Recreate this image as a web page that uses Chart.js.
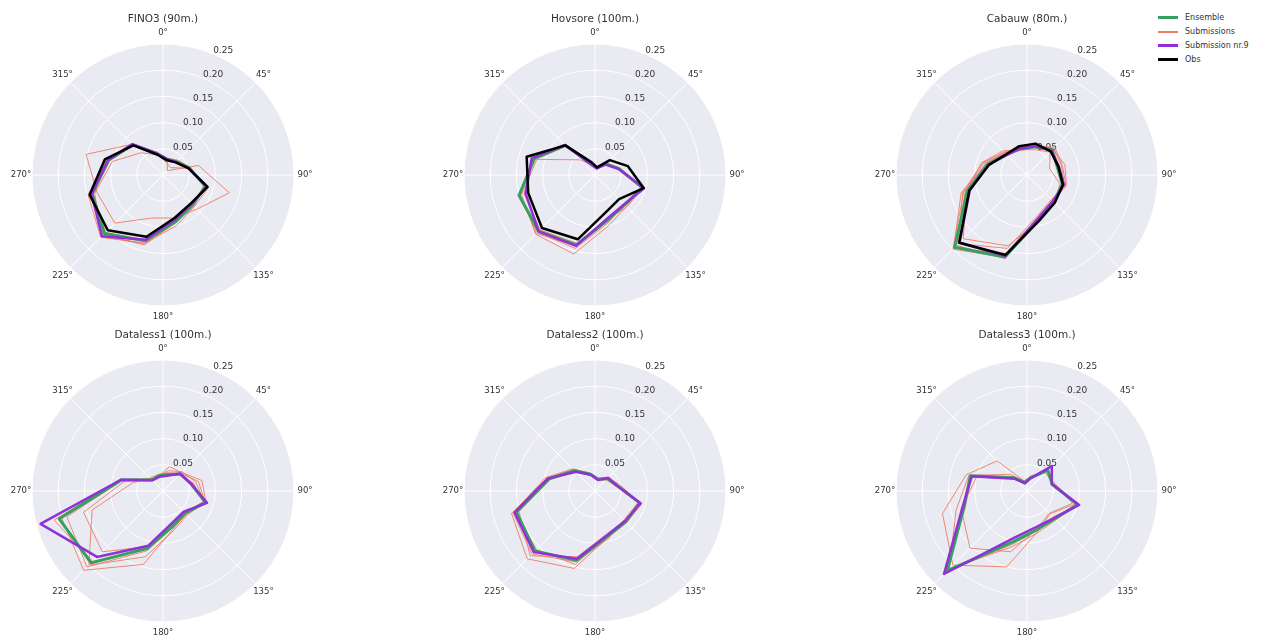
<!DOCTYPE html>
<html>
<head>
<meta charset="utf-8">
<script src="https://cdn.jsdelivr.net/npm/chart.js@4.4.1/dist/chart.umd.min.js"></script>
<style>
  body { margin: 0; background: #fff; width: 1273px; height: 644px; overflow: hidden; position: relative; font-family: "DejaVu Sans", sans-serif; }
  canvas { position: absolute; }
  #legend { position: absolute; left: 1158px; top: 11px; font-size: 8px; color: #333; }
  #legend .row { height: 13.8px; display: flex; align-items: center; }
  #legend .sw { width: 20px; margin-right: 7px; }
</style>
</head>
<body>
<div id="legend">
  <div class="row"><div class="sw" style="border-top:3px solid #35a05f"></div>Ensemble</div>
  <div class="row"><div class="sw" style="border-top:2px solid #ea8068"></div>Submissions</div>
  <div class="row"><div class="sw" style="border-top:3px solid #9030d6"></div>Submission nr.9</div>
  <div class="row"><div class="sw" style="border-top:3px solid #000"></div>Obs</div>
</div>
<script>
// sector centres (degrees, clockwise from north)
const directions = [15, 45, 75, 105, 135, 165, 195, 225, 255, 285, 315, 345];
const angleTickLabels = ['0°', '45°', '90°', '135°', '180°', '225°', '270°', '315°'];
const radialTicks = [0.05, 0.10, 0.15, 0.20, 0.25];
const panelTitles = ['FINO3 (90m.)', 'Hovsore (100m.)', 'Cabauw (80m.)',
                     'Dataless1 (100m.)', 'Dataless2 (100m.)', 'Dataless3 (100m.)'];

// FINO3
const fino3Ensemble = [0.031, 0.036, 0.052, 0.084, 0.080, 0.092, 0.130, 0.158, 0.140, 0.108, 0.082, 0.042];
const fino3Sub9     = [0.031, 0.035, 0.050, 0.086, 0.078, 0.088, 0.128, 0.165, 0.141, 0.109, 0.083, 0.042];
const fino3Obs      = [0.029, 0.034, 0.050, 0.088, 0.076, 0.085, 0.122, 0.149, 0.145, 0.115, 0.080, 0.040];
const fino3Subs = [
  [0.030, 0.012, 0.070, 0.131, 0.092, 0.085, 0.085, 0.130, 0.130, 0.152, 0.083, 0.045],
  [0.025, 0.020, 0.050, 0.090, 0.085, 0.100, 0.135, 0.165, 0.135, 0.100, 0.060, 0.040],
  [0.033, 0.040, 0.055, 0.080, 0.084, 0.095, 0.135, 0.168, 0.148, 0.112, 0.085, 0.045],
  [0.030, 0.037, 0.053, 0.082, 0.082, 0.090, 0.130, 0.155, 0.138, 0.105, 0.080, 0.043],
  [0.032, 0.034, 0.050, 0.087, 0.079, 0.094, 0.138, 0.162, 0.143, 0.110, 0.084, 0.040]
];

// Hovsore
const hovsoreEnsemble = [0.014, 0.030, 0.047, 0.094, 0.080, 0.090, 0.138, 0.152, 0.150, 0.120, 0.080, 0.020];
const hovsoreSub9     = [0.013, 0.028, 0.046, 0.097, 0.079, 0.087, 0.140, 0.152, 0.137, 0.125, 0.081, 0.019];
const hovsoreObs      = [0.015, 0.040, 0.065, 0.096, 0.065, 0.075, 0.127, 0.143, 0.132, 0.135, 0.080, 0.025];
const hovsoreSubs = [
  [0.015, 0.030, 0.050, 0.090, 0.085, 0.100, 0.156, 0.160, 0.145, 0.115, 0.041, 0.020],
  [0.016, 0.032, 0.048, 0.092, 0.082, 0.092, 0.140, 0.158, 0.148, 0.118, 0.078, 0.022],
  [0.013, 0.029, 0.045, 0.095, 0.086, 0.088, 0.135, 0.148, 0.140, 0.122, 0.083, 0.020],
  [0.014, 0.031, 0.050, 0.093, 0.079, 0.095, 0.145, 0.155, 0.152, 0.119, 0.079, 0.021]
];

// Cabauw
const cabauwEnsemble = [0.056, 0.068, 0.060, 0.070, 0.072, 0.088, 0.162, 0.195, 0.118, 0.078, 0.055, 0.052];
const cabauwSub9     = [0.057, 0.066, 0.063, 0.073, 0.070, 0.085, 0.160, 0.182, 0.113, 0.076, 0.054, 0.052];
const cabauwObs      = [0.062, 0.064, 0.062, 0.071, 0.075, 0.090, 0.158, 0.183, 0.114, 0.075, 0.056, 0.057];
const cabauwSubs = [
  [0.055, 0.070, 0.075, 0.078, 0.070, 0.085, 0.163, 0.200, 0.125, 0.085, 0.060, 0.050],
  [0.050, 0.062, 0.045, 0.065, 0.075, 0.090, 0.140, 0.172, 0.120, 0.090, 0.065, 0.050],
  [0.058, 0.072, 0.068, 0.074, 0.068, 0.082, 0.155, 0.198, 0.130, 0.080, 0.058, 0.055],
  [0.054, 0.066, 0.058, 0.069, 0.073, 0.087, 0.165, 0.190, 0.122, 0.082, 0.060, 0.048],
  [0.057, 0.075, 0.070, 0.077, 0.066, 0.080, 0.145, 0.185, 0.127, 0.088, 0.062, 0.053]
];

// Dataless1
const dataless1Ensemble = [0.032, 0.046, 0.055, 0.084, 0.060, 0.070, 0.113, 0.194, 0.205, 0.082, 0.030, 0.030];
const dataless1Sub9     = [0.030, 0.047, 0.055, 0.087, 0.056, 0.064, 0.108, 0.178, 0.242, 0.083, 0.029, 0.028];
const dataless1Subs = [
  [0.048, 0.050, 0.077, 0.085, 0.062, 0.075, 0.145, 0.214, 0.200, 0.085, 0.032, 0.030],
  [0.035, 0.043, 0.060, 0.080, 0.058, 0.068, 0.110, 0.164, 0.157, 0.075, 0.030, 0.032],
  [0.040, 0.052, 0.065, 0.082, 0.063, 0.072, 0.118, 0.205, 0.190, 0.080, 0.028, 0.030],
  [0.033, 0.045, 0.058, 0.079, 0.060, 0.072, 0.115, 0.190, 0.215, 0.085, 0.032, 0.029],
  [0.036, 0.048, 0.070, 0.083, 0.065, 0.078, 0.130, 0.200, 0.140, 0.060, 0.035, 0.033]
];

// Dataless2
const dataless2Ensemble = [0.023, 0.034, 0.043, 0.088, 0.083, 0.090, 0.137, 0.162, 0.155, 0.090, 0.055, 0.033];
const dataless2Sub9     = [0.022, 0.035, 0.042, 0.090, 0.081, 0.088, 0.134, 0.165, 0.159, 0.093, 0.052, 0.032];
const dataless2Subs = [
  [0.025, 0.038, 0.045, 0.093, 0.085, 0.092, 0.153, 0.183, 0.165, 0.095, 0.058, 0.030],
  [0.020, 0.030, 0.040, 0.085, 0.078, 0.095, 0.140, 0.170, 0.162, 0.098, 0.060, 0.035],
  [0.024, 0.036, 0.048, 0.090, 0.080, 0.085, 0.130, 0.175, 0.150, 0.088, 0.050, 0.034],
  [0.022, 0.033, 0.044, 0.087, 0.084, 0.088, 0.145, 0.158, 0.158, 0.092, 0.056, 0.031]
];

// Dataless3
const dataless3Ensemble = [0.026, 0.056, 0.050, 0.100, 0.075, 0.076, 0.100, 0.215, 0.125, 0.112, 0.036, 0.017];
const dataless3Sub9     = [0.025, 0.067, 0.049, 0.103, 0.073, 0.071, 0.092, 0.224, 0.128, 0.109, 0.033, 0.015];
const dataless3Subs = [
  [0.030, 0.050, 0.055, 0.095, 0.062, 0.080, 0.150, 0.200, 0.167, 0.120, 0.081, 0.020],
  [0.028, 0.050, 0.052, 0.090, 0.060, 0.075, 0.120, 0.154, 0.130, 0.100, 0.040, 0.020],
  [0.024, 0.055, 0.048, 0.098, 0.078, 0.082, 0.110, 0.210, 0.140, 0.115, 0.045, 0.018],
  [0.027, 0.058, 0.050, 0.102, 0.070, 0.078, 0.105, 0.218, 0.122, 0.110, 0.035, 0.016]
];

const panels = [
  { ens: fino3Ensemble, sub9: fino3Sub9, obs: fino3Obs, subs: fino3Subs },
  { ens: hovsoreEnsemble, sub9: hovsoreSub9, obs: hovsoreObs, subs: hovsoreSubs },
  { ens: cabauwEnsemble, sub9: cabauwSub9, obs: cabauwObs, subs: cabauwSubs },
  { ens: dataless1Ensemble, sub9: dataless1Sub9, obs: null, subs: dataless1Subs },
  { ens: dataless2Ensemble, sub9: dataless2Sub9, obs: null, subs: dataless2Subs },
  { ens: dataless3Ensemble, sub9: dataless3Sub9, obs: null, subs: dataless3Subs }
];

// layout
const centersX = [163, 595, 1027];
const centersY = [175, 491];
const RADIUS = 131;
const CW = 420, CH = 320, CTOP = 172;

// 24 spokes of 15 degrees; the data sit on the odd ones
const spokeLabels = [];
for (let i = 0; i < 24; i++) spokeLabels.push(i % 3 === 0 ? angleTickLabels[i / 3] : '');

function toSpokes(values) {
  const out = new Array(24).fill(null);
  directions.forEach((d, k) => { out[d / 15] = values[k]; });
  return out;
}

const textColor = '#333';

const polarText = {
  id: 'polarText',
  beforeDatasetsDraw(chart) {
    const s = chart.scales.r;
    const ctx = chart.ctx;
    ctx.save();
    ctx.font = '9px "DejaVu Sans"';
    ctx.fillStyle = textColor;
    ctx.textAlign = 'left';
    ctx.textBaseline = 'bottom';
    radialTicks.forEach(v => {
      const p = s.getPointPositionForValue(1.5, v);
      ctx.fillText(v.toFixed(2), p.x, p.y + 1);
    });
    ctx.restore();
  },
  afterDraw(chart, args, opts) {
    const s = chart.scales.r;
    const ctx = chart.ctx;
    ctx.save();
    ctx.fillStyle = textColor;
    ctx.textAlign = 'center';
    ctx.textBaseline = 'middle';
    ctx.font = '8.5px "DejaVu Sans"';
    for (let i = 0; i < 24; i += 3) {
      const p = s.getPointPosition(i, s.drawingArea + 11);
      ctx.fillText(spokeLabels[i], p.x, p.y);
    }
    ctx.font = '10.5px "DejaVu Sans"';
    ctx.fillText(opts.title, s.xCenter, s.yCenter - 156);
    ctx.restore();
  }
};

panels.forEach((panel, p) => {
  const col = p % 3, row = Math.floor(p / 3);
  const cx = centersX[col], cy = centersY[row];
  const canvas = document.createElement('canvas');
  canvas.width = CW;
  canvas.height = CH;
  canvas.style.left = (cx - CW / 2) + 'px';
  canvas.style.top = (cy - CTOP) + 'px';
  document.body.appendChild(canvas);

  const datasets = [];
  if (panel.obs) {
    datasets.push({ label: 'Obs', data: toSpokes(panel.obs), borderColor: '#000', borderWidth: 2.5, order: 0 });
  }
  datasets.push({ label: 'Submission nr.9', data: toSpokes(panel.sub9), borderColor: '#9030d6', borderWidth: 2.5, order: 1 });
  datasets.push({ label: 'Ensemble', data: toSpokes(panel.ens), borderColor: '#35a05f', borderWidth: 3, order: 2 });
  panel.subs.forEach((s, k) => {
    datasets.push({ label: 'Submissions', data: toSpokes(s), borderColor: 'rgba(234,120,98,0.85)', borderWidth: 1, order: 3 + k });
  });
  datasets.forEach(d => {
    d.backgroundColor = 'transparent';
    d.fill = false;
    d.spanGaps = true;
    d.pointRadius = 0;
    d.pointHoverRadius = 0;
    d.borderJoinStyle = 'round';
  });

  new Chart(canvas, {
    type: 'radar',
    data: { labels: spokeLabels, datasets: datasets },
    options: {
      responsive: false,
      animation: false,
      layout: { padding: { left: CW / 2 - RADIUS, right: CW / 2 - RADIUS, top: CTOP - RADIUS, bottom: CH - CTOP - RADIUS } },
      elements: { line: { tension: 0 } },
      plugins: {
        legend: { display: false },
        tooltip: { enabled: false },
        polarText: { title: panelTitles[p] }
      },
      scales: {
        r: {
          min: 0,
          max: 0.25,
          backgroundColor: '#eaeaf2',
          grid: { circular: true, color: '#ffffff', lineWidth: 1 },
          angleLines: {
            color: '#ffffff',
            lineWidth: ctx => (ctx.index % 3 === 0 ? 1 : 0)
          },
          ticks: { display: false, stepSize: 0.05 },
          pointLabels: { display: false }
        }
      }
    },
    plugins: [polarText]
  });
});
</script>
</body>
</html>
